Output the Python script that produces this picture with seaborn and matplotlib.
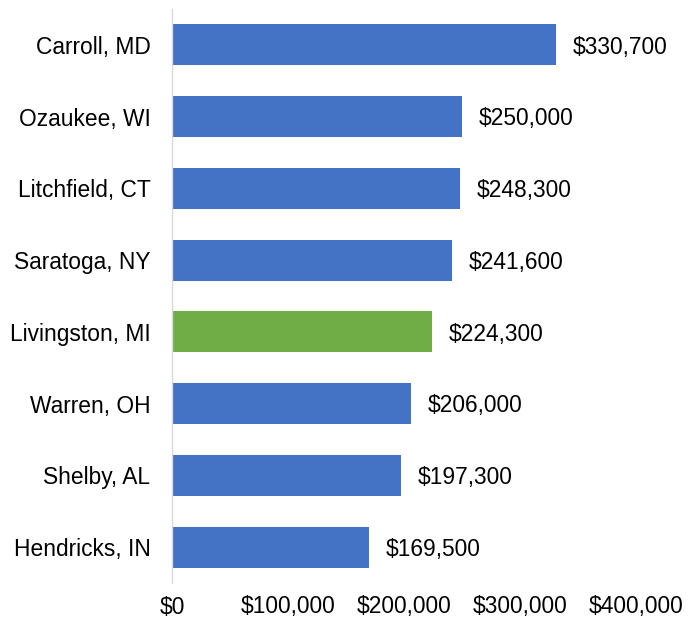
import matplotlib
matplotlib.use("Agg")
import matplotlib.pyplot as plt
import seaborn as sns
import pandas as pd

counties = ["Carroll, MD", "Ozaukee, WI", "Litchfield, CT", "Saratoga, NY",
            "Livingston, MI", "Warren, OH", "Shelby, AL", "Hendricks, IN"]
values = [330700, 250000, 248300, 241600, 224300, 206000, 197300, 169500]
highlight = "Livingston, MI"
tick_values = [0, 100000, 200000, 300000, 400000]

df = pd.DataFrame({"county": counties, "value": values})
palette = {c: ("#70AD47" if c == highlight else "#4472C4") for c in counties}

sns.set_theme(style="white")
plt.rcParams["font.family"] = ["Liberation Sans", "DejaVu Sans"]

fs = 16.4
fig = plt.figure(figsize=(6.97, 6.21), dpi=100)
ax = fig.add_axes([172 / 697, 1 - 583 / 621, (636 - 172) / 697, (583 - 9) / 621])

sns.barplot(data=df, x="value", y="county", hue="county", palette=palette,
            order=counties, width=0.57, legend=False, ax=ax, saturation=1,
            linewidth=0)

for i, v in enumerate(values):
    ax.text(v + 14500, i + 0.03, f"${v:,.0f}", va="center", ha="left",
            fontsize=fs, color="#000000", clip_on=False)

ax.set_xlim(0, 400000)
ax.set_xticks(tick_values)
ax.set_xticklabels([f"${t:,.0f}" for t in tick_values])
ax.set_xlabel("")
ax.set_ylabel("")
ax.tick_params(axis="both", length=0, labelsize=fs, colors="#000000")
ax.tick_params(axis="y", pad=15.5)
ax.tick_params(axis="x", pad=9)

for s in ["top", "right", "bottom"]:
    ax.spines[s].set_visible(False)
ax.spines["left"].set_color("#D9D9D9")
ax.spines["left"].set_linewidth(1.0)

fig.savefig("out.png", dpi=100)
